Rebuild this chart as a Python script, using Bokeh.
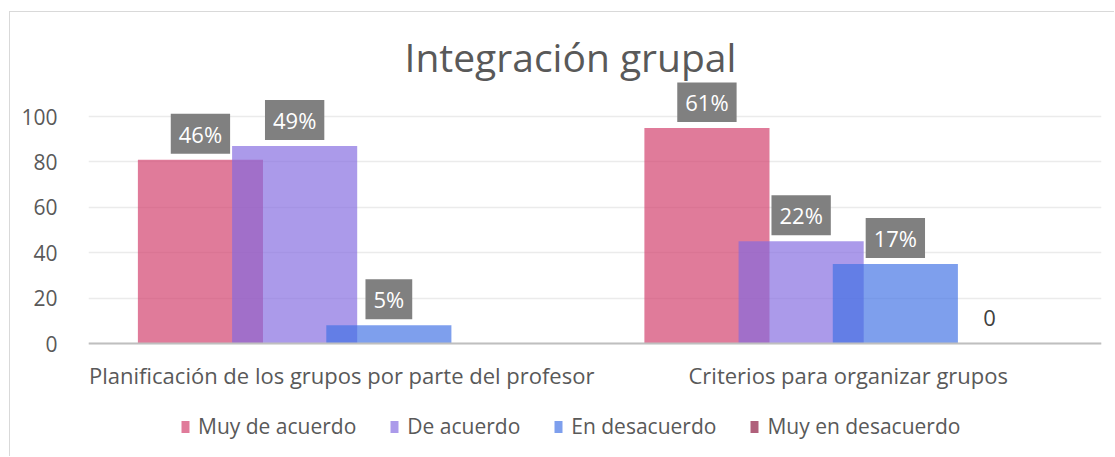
import numpy as np
from bokeh.plotting import figure
from bokeh.models import Range1d, FixedTicker, Legend, LegendItem, Label
from bokeh.embed import file_html
from bokeh.resources import INLINE

categories = ["Planificación de los grupos por parte del profesor", "Criterios para organizar grupos"]
series = ["Muy de acuerdo", "De acuerdo", "En desacuerdo", "Muy en desacuerdo"]
muy_de_acuerdo = [81, 95]
de_acuerdo = [87, 45]
en_desacuerdo = [8, 35]
muy_en_desacuerdo = [0, 0]
muy_de_acuerdo_lbl = ["46%", "61%"]
de_acuerdo_lbl = ["49%", "22%"]
en_desacuerdo_lbl = ["5%", "17%"]
muy_en_desacuerdo_lbl = ["", "0"]
y_ticks = [0, 20, 40, 60, 80, 100]

values = [muy_de_acuerdo, de_acuerdo, en_desacuerdo, muy_en_desacuerdo]
labels = [muy_de_acuerdo_lbl, de_acuerdo_lbl, en_desacuerdo_lbl, muy_en_desacuerdo_lbl]
colors = ["#D13D6A", "#836AE0", "#4172E4", "#8B153C"]
ALPHA = 0.68

FONT = "Open Sans"
TXT = "#595959"

p = figure(width=1105, height=445, output_backend="svg", toolbar_location=None,
           x_range=Range1d(0, 2), y_range=Range1d(-46.7, 115),
           min_border_left=78, min_border_right=14, min_border_top=70, min_border_bottom=8)
p.styles = {"margin-left": "9px", "margin-top": "11px",
            "border-left": "1px solid #D9D9D9", "border-top": "1px solid #D9D9D9"}
p.outline_line_color = None
p.background_fill_color = "white"
p.border_fill_color = "white"

p.title.text = "Integración grupal"
p.title.align = "left"
p.title.offset = 316
p.title.text_font = FONT
p.title.text_font_size = "39px"
p.title.text_font_style = "normal"
p.title.text_color = TXT
p.title.standoff = 0

centers = np.arange(len(categories)) + 0.5
step = 0.186
bw = 0.247
offsets = (np.arange(len(series)) - (len(series) - 1) / 2) * step

items = []
for i, name in enumerate(series):
    xs = centers + offsets[i]
    r = p.vbar(x=xs, top=values[i], width=bw, fill_color=colors[i], fill_alpha=ALPHA,
               line_color=None)
    items.append(LegendItem(label=name, renderers=[r]))
    for j in range(len(categories)):
        t = labels[i][j]
        if not t:
            continue
        if values[i][j] > 0:
            lab = Label(x=xs[j], y=values[i][j], text=t, text_align="center",
                        text_baseline="bottom", y_offset=6,
                        text_font=FONT, text_font_size="22px", text_color="white",
                        background_fill_color="#808080",
                        padding=dict(left=8, right=8, top=5, bottom=5))
        else:
            lab = Label(x=xs[j], y=values[i][j], text=t, text_align="center",
                        text_baseline="bottom", y_offset=18,
                        text_font=FONT, text_font_size="22px", text_color="#404040")
        p.add_layout(lab)

# axes
p.yaxis.ticker = FixedTicker(ticks=y_ticks)
p.yaxis.axis_line_color = None
p.yaxis.major_tick_line_color = None
p.yaxis.minor_tick_line_color = None
p.yaxis.major_label_standoff = 25
p.yaxis.major_label_text_font = FONT
p.yaxis.major_label_text_font_size = "21px"
p.yaxis.major_label_text_color = TXT

p.xaxis.fixed_location = 0
p.xaxis.ticker = FixedTicker(ticks=list(centers))
p.xaxis.major_label_overrides = {float(c): cat for c, cat in zip(centers, categories)}
p.xaxis.axis_line_color = "#BFBFBF"
p.xaxis.axis_line_width = 2
p.xaxis.major_tick_line_color = None
p.xaxis.minor_tick_line_color = None
p.xaxis.major_label_standoff = 10
p.xaxis.major_label_text_font = FONT
p.xaxis.major_label_text_font_size = "22px"
p.xaxis.major_label_text_color = TXT

p.xgrid.grid_line_color = None
p.ygrid.grid_line_color = "#EBEBEB"
p.ygrid.grid_line_width = 1.5

legend = Legend(items=items, orientation="horizontal", location=(92, 9),
                label_text_font=FONT, label_text_font_size="21px", label_text_color=TXT,
                glyph_width=10, glyph_height=15, spacing=33, label_standoff=8,
                border_line_color=None, background_fill_alpha=0, margin=0, padding=0)
p.add_layout(legend)

open("out.html", "w").write(file_html(p, INLINE))
